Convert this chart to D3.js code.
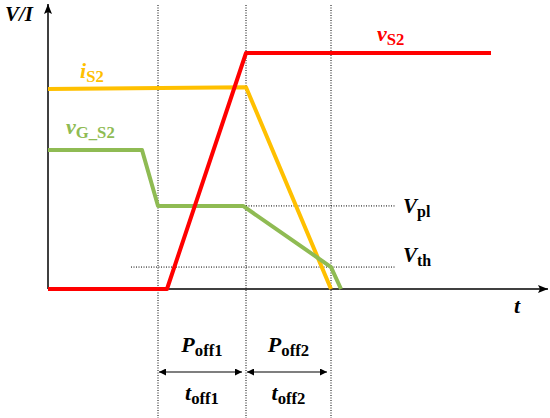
<!DOCTYPE html>
<html lang="en">
<head>
    <meta charset="UTF-8">
    <title>Turn-off waveforms</title>
    <script src="https://cdn.jsdelivr.net/npm/d3@7"></script>
    <style>
        body { margin: 0; background: #fff; }
        text { font-family: 'Liberation Serif', 'Times New Roman', serif; font-weight: bold; }
    </style>
</head>
<body>
<script type="application/javascript">
    // time instants (arbitrary units) and normalised levels
    const tMarks = [2.2, 3.96, 5.66];          // vertical dotted lines
    const vS2 = [[0, 0], [2.38, 0], [3.96, 1], [8.86, 1]];
    const iS2 = [[0, 0.847], [3.96, 0.855], [5.66, 0]];
    const vGS2 = [[0, 0.589], [1.88, 0.589], [2.2, 0.352], [3.9, 0.352], [5.66, 0.093], [5.86, 0]];
    const vpl = 0.352, vth = 0.093;
    const intervals = [
        {from: 2.2, to: 3.96, p: 'off1', t: 'off1'},
        {from: 3.96, to: 5.66, p: 'off2', t: 'off2'}
    ];

    const w = 550, h = 418;
    const svg = d3.select('body').append('svg')
        .attr('width', w)
        .attr('height', h);

    const x = d3.scaleLinear().domain([0, 10]).range([48, 548]);
    const y = d3.scaleLinear().domain([0, 1]).range([289, 53]);

    const defs = svg.append('defs');
    defs.append('marker')
        .attr('id', 'arr')
        .attr('viewBox', '0 0 10 10')
        .attr('refX', 10).attr('refY', 5)
        .attr('markerWidth', 7).attr('markerHeight', 7)
        .attr('markerUnits', 'userSpaceOnUse')
        .attr('orient', 'auto-start-reverse')
        .append('path').attr('d', 'M0,0L10,5L0,10z').attr('fill', '#000');
    defs.append('marker')
        .attr('id', 'axarr')
        .attr('viewBox', '0 0 10 10')
        .attr('refX', 10).attr('refY', 5)
        .attr('markerWidth', 10).attr('markerHeight', 8)
        .attr('markerUnits', 'userSpaceOnUse')
        .attr('orient', 'auto')
        .attr('preserveAspectRatio', 'none')
        .append('path').attr('d', 'M0,0L10,5L0,10L2,5z').attr('fill', '#000');

    // dotted guides
    svg.selectAll('.vmark').data(tMarks).enter().append('line')
        .attr('x1', d => x(d)).attr('x2', d => x(d))
        .attr('y1', 5).attr('y2', h)
        .attr('stroke', '#000').attr('stroke-width', 1)
        .attr('stroke-dasharray', '1,1.5');
    svg.append('line')
        .attr('x1', x(3.96)).attr('x2', x(6.94))
        .attr('y1', y(vpl)).attr('y2', y(vpl))
        .attr('stroke', '#000').attr('stroke-dasharray', '1,1.5');
    svg.append('line')
        .attr('x1', x(1.66)).attr('x2', x(6.94))
        .attr('y1', y(vth)).attr('y2', y(vth))
        .attr('stroke', '#000').attr('stroke-dasharray', '1,1.5');

    // axes
    svg.append('line')
        .attr('x1', x(0)).attr('x2', x(0))
        .attr('y1', y(0)).attr('y2', 4)
        .attr('stroke', '#000').attr('stroke-width', 1.5)
        .attr('marker-end', 'url(#axarr)');
    svg.append('line')
        .attr('x1', x(0)).attr('x2', 548)
        .attr('y1', y(0)).attr('y2', y(0))
        .attr('stroke', '#000').attr('stroke-width', 1.5)
        .attr('marker-end', 'url(#axarr)');

    const line = d3.line().x(d => x(d[0])).y(d => y(d[1]));
    const series = [
        {pts: iS2, color: '#ffc000'},
        {pts: vGS2, color: '#8fbb53'},
        {pts: vS2, color: '#ff0000'}
    ];
    svg.selectAll('.wave').data(series).enter().append('path')
        .attr('d', d => line(d.pts))
        .attr('fill', 'none')
        .attr('stroke', d => d.color)
        .attr('stroke-width', 4)
        .attr('stroke-linejoin', 'round');

    // label helper: italic main letter + upright subscript
    function label(px, py, main, sub, color, size) {
        const t = svg.append('text')
            .attr('x', px).attr('y', py)
            .attr('fill', color)
            .attr('font-size', size);
        t.append('tspan').attr('font-style', 'italic').text(main);
        if (sub) {
            t.append('tspan').attr('font-size', size * 0.76).attr('dy', size * 0.2).text(sub);
        }
        return t;
    }

    label(5, 21, 'V/I', null, '#000', 21);
    label(514, 313, 't', null, '#000', 22);
    label(80, 78, 'i', 'S2', '#ffc000', 22);
    label(377, 41, 'v', 'S2', '#ff0000', 22);
    label(66, 134, 'v', 'G_S2', '#8fbb53', 22);
    label(403, 213, 'V', 'pl', '#000', 21);
    label(403, 262, 'V', 'th', '#000', 21);

    intervals.forEach(d => {
        const x1 = x(d.from), x2 = x(d.to);
        svg.append('line')
            .attr('x1', x1 + 1).attr('x2', x2 - 4)
            .attr('y1', 372).attr('y2', 372)
            .attr('stroke', '#000').attr('stroke-width', 1.2)
            .attr('marker-start', 'url(#arr)')
            .attr('marker-end', 'url(#arr)');
        const cx = (x1 + x2) / 2;
        label(cx, 352, 'P', d.p, '#000', 22).attr('text-anchor', 'middle');
        label(cx, 400, 't', d.t, '#000', 22).attr('text-anchor', 'middle');
    });
</script>
</body>
</html>
